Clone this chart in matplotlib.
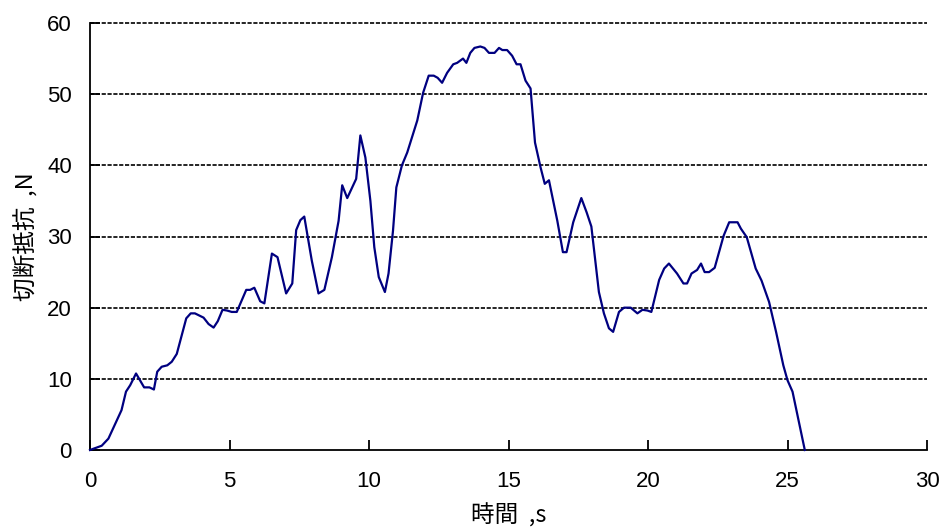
import matplotlib
matplotlib.use("Agg")
import matplotlib.pyplot as plt

# 時間 (s) と 切断抵抗 (N) — グラフから読み取った値
tiempo = [0, 0.42, 0.66, 1.13, 1.29, 1.44, 1.65, 1.94, 2.13, 2.29, 2.41, 2.57, 2.77, 2.93,
          3.11, 3.45, 3.61, 3.76, 4.07, 4.25, 4.43, 4.58, 4.75, 4.91, 5.08, 5.26, 5.60,
          5.74, 5.89, 6.10, 6.25, 6.52, 6.72, 7.03, 7.25, 7.39, 7.54, 7.68, 7.95, 8.19,
          8.40, 8.67, 8.91, 9.04, 9.22, 9.54, 9.69, 9.87, 10.05, 10.19, 10.35, 10.57,
          10.70, 10.86, 10.98, 11.18, 11.37, 11.73, 11.94, 12.14, 12.32, 12.46, 12.62,
          12.80, 13.02, 13.16, 13.37, 13.49, 13.63, 13.78, 13.99, 14.14, 14.30, 14.50,
          14.66, 14.78, 14.95, 15.13, 15.29, 15.43, 15.61, 15.79, 15.95, 16.15, 16.30,
          16.45, 16.75, 16.95, 17.08, 17.32, 17.61, 17.80, 17.97, 18.24, 18.42, 18.60,
          18.75, 18.96, 19.14, 19.38, 19.62, 19.80, 19.98, 20.12, 20.40, 20.58, 20.75,
          21.04, 21.27, 21.40, 21.56, 21.76, 21.90, 22.03, 22.19, 22.39, 22.71, 22.91,
          23.21, 23.33, 23.54, 23.86, 24.07, 24.34, 24.59, 24.85, 25.00, 25.18, 25.62]
resistencia = [0, 0.6, 1.6, 5.6, 8.2, 9.1, 10.75, 8.8, 8.8, 8.5, 11, 11.7, 11.9, 12.4,
               13.5, 18.5, 19.2, 19.2, 18.6, 17.7, 17.2, 18.1, 19.7, 19.6, 19.4, 19.4, 22.5,
               22.5, 22.8, 20.9, 20.6, 27.6, 27.1, 22.0, 23.4, 30.9, 32.3, 32.8, 26.6, 22.0,
               22.5, 27.1, 32.2, 37.2, 35.4, 38.1, 44.2, 41.1, 35.0, 28.5, 24.3, 22.2,
               24.8, 30.8, 36.9, 40.0, 41.8, 46.3, 50.2, 52.6, 52.6, 52.3, 51.6,
               53.0, 54.2, 54.4, 55.0, 54.4, 55.8, 56.5, 56.7, 56.5, 55.8, 55.8,
               56.5, 56.2, 56.2, 55.4, 54.2, 54.2, 51.9, 50.8, 43.2, 39.7, 37.4,
               37.9, 32.2, 27.8, 27.8, 32.0, 35.4, 33.4, 31.4, 22.2, 19.2, 17.1,
               16.6, 19.4, 20.0, 20.0, 19.2, 19.7, 19.6, 19.4, 23.9, 25.5, 26.2,
               24.8, 23.4, 23.4, 24.8, 25.3, 26.2, 25.0, 25.0, 25.6, 30.1, 32.0,
               32.0, 31.1, 29.9, 25.5, 23.8, 20.8, 16.6, 11.9, 9.8, 8.2, 0]

xticks = [0, 5, 10, 15, 20, 25, 30]
yticks = [0, 10, 20, 30, 40, 50, 60]

plt.rcParams['font.family'] = ['Liberation Sans', 'Noto Sans CJK JP']
fuente_cjk = ['Noto Sans CJK JP', 'Liberation Sans']

fig = plt.figure(figsize=(9.42, 5.29), dpi=100)
ax = fig.add_axes([90 / 942, 79 / 529, 837 / 942, 427 / 529])

ax.plot(tiempo, resistencia, color='#000080', linewidth=1.6, clip_on=False, zorder=3)

ax.set_xlim(0, 30)
ax.set_ylim(0, 60)
ax.set_xticks(xticks)
ax.set_yticks(yticks)

# grade tracejada horizontal
for y in yticks[1:]:
    ax.axhline(y, color='black', linewidth=1.2, linestyle=(0, (2.5, 1)), zorder=1, clip_on=False)

ax.spines['top'].set_visible(False)
ax.spines['right'].set_visible(False)
for lado in ['left', 'bottom']:
    ax.spines[lado].set_linewidth(1.3)

ax.tick_params(axis='x', direction='in', length=7, width=1.3, pad=15, labelsize=16)
ax.tick_params(axis='y', direction='in', length=7, width=1.3, pad=13, labelsize=16)

ax.set_xlabel('時間  ,s', family=fuente_cjk, fontsize=17, labelpad=8)
ax.set_ylabel('切断抵抗  ,N', family=fuente_cjk, fontsize=17, labelpad=6)

fig.savefig('out.png', dpi=100)
